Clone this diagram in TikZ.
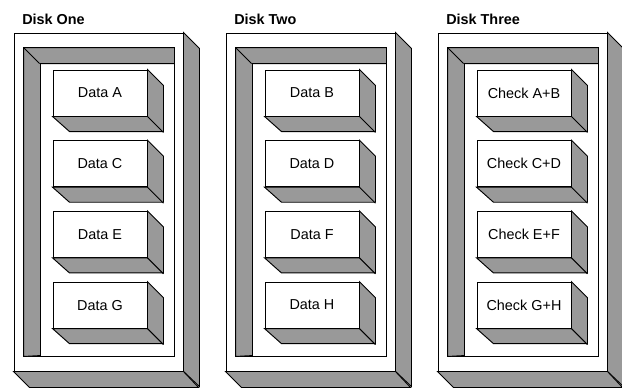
\documentclass[tikz,border=0pt]{standalone}
\usepackage{fontspec}
\setmainfont{Liberation Sans}
\usepackage{tikz}
\definecolor{facegray}{RGB}{153,153,153}
\tikzset{
  casebox/.style={rectangle,draw,fill=white,line width=0.7pt,inner sep=0pt,minimum width=126.75pt,minimum height=253.5pt},
  framebox/.style={rectangle,draw,line width=0.7pt,inner sep=0pt,minimum width=112.5pt,minimum height=231pt},
  blockbox/.style={rectangle,draw,fill=white,line width=0.7pt,inner sep=0pt,minimum width=70.5pt,minimum height=34.5pt,font=\fontsize{10.8}{12}\selectfont},
  disklabel/.style={inner sep=0pt,font=\fontsize{10.8}{12}\selectfont\bfseries},
  face/.style={draw,fill=facegray,line width=0.7pt}
}
\begin{document}
\begin{tikzpicture}[x=0.75pt,y=-0.75pt]
  \useasboundingbox (0,0) rectangle (622,387);
  \foreach \n/\x/\dname/\tA/\tB/\tC/\tD in {1/14/Disk One/Data A/Data C/Data E/Data G,
      2/226/Disk Two/Data B/Data D/Data F/Data H,
      3/438/Disk Three/Check A+B/Check C+D/Check E+F/Check G+H} {
    %% outer case
    \node[casebox] (C\n) at (\x+84.5,202) {};
    \draw[face] (C\n.north east) -- ++(16,16) -- ++(0,338) -- (C\n.south east) -- cycle;
    \draw[face] (C\n.south west) -- ++(16,16) -- ++(169,0) -- (C\n.south east) -- cycle;
    \node[disklabel,anchor=base west] (T\n) at (\x+8,24) {\dname};
    %% recessed frame
    \node[framebox] (F\n) at (\x+85,202) {};
    \draw[face] (F\n.north west) -- (F\n.north east) -- ++(0,16) -- ++(-134,0) -- ++(0,292) -- (F\n.south west) -- cycle;
    \draw[line width=0.7pt] (F\n.north west) -- ++(16,16);
    %% data blocks
    \foreach \k/\txt in {0/\tA,1/\tB,2/\tC,3/\tD} {
      \node[blockbox] (B\n\k) at (\x+86,93+70.7*\k) {\txt};
      \draw[face] (B\n\k.north east) -- ++(16,16) -- ++(0,46) -- ++(-94,0) -- (B\n\k.south west) -- (B\n\k.south east) -- cycle;
      \draw[line width=0.7pt] (B\n\k.south east) -- ++(16,16);
    }
  }
\end{tikzpicture}
\end{document}
